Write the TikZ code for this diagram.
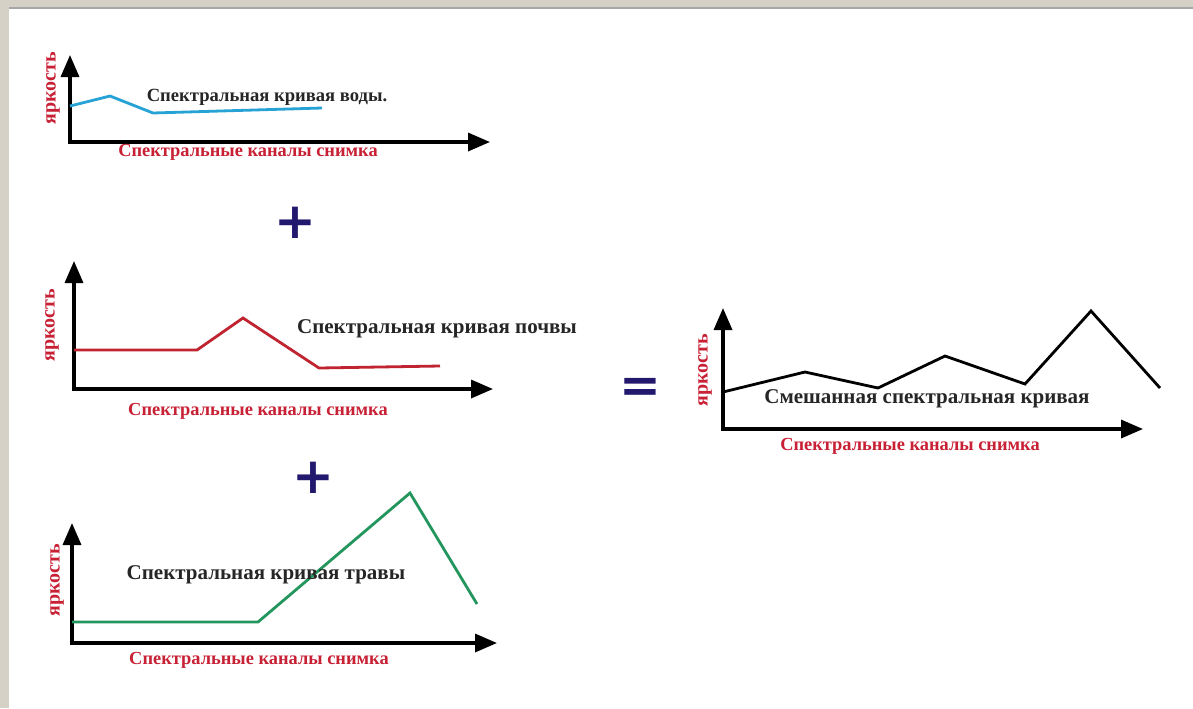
\documentclass[tikz,border=0pt]{standalone}
\usepackage{fontspec}
\setmainfont{Liberation Serif}
\newfontfamily\signfont{DejaVu Sans}
\usetikzlibrary{arrows.meta}
\definecolor{framegray}{RGB}{214,209,198}
\definecolor{chanred}{RGB}{200,32,52}
\definecolor{signblue}{RGB}{34,24,110}
\definecolor{watercol}{RGB}{38,162,212}
\definecolor{soilcol}{RGB}{192,36,48}
\definecolor{grasscol}{RGB}{34,150,92}
\newcommand*{\titlesize}{\fontsize{10.5}{10.5}\selectfont}
\newcommand*{\chansize }{\fontsize{9.2}{9.2}\selectfont}
\newcommand*{\ylabsize }{\fontsize{10}{10}\selectfont}
\tikzset{
  axis/.style   = {line width=1.7pt, line join=miter, {Triangle[length=11pt,width=9pt]}-{Triangle[length=11pt,width=9pt]}},
  curve/.style  = {line width=1.4pt, line join=miter},
  title/.style  = {font=\bfseries\titlesize, text=black!85, inner sep=0pt},
  chan/.style   = {font=\bfseries\chansize, text=chanred, inner sep=0pt},
  ylab/.style   = {font=\bfseries\ylabsize, text=chanred, rotate=90, inner sep=0pt},
  sign/.style   = {font=\signfont\bfseries\fontsize{25}{25}\selectfont, text=signblue, inner sep=0pt}
}

\begin{document}
\begin{tikzpicture}[x=0.5pt, y=-0.5pt]
    \useasboundingbox (0,0) rectangle (1193,708);
    % frame
    \fill [framegray] (0,0) rectangle (1193,708);
    \fill [white] (9,8) rectangle (1193,708);
    \draw [gray!70, line width=0.8pt] (9,8) -- (1193,8);

    % water
    \coordinate (w-o) at (70,142);
    \coordinate (w-y) at (70,55);
    \coordinate (w-x) at (490,142);
    \draw [axis] (w-y) -- (w-o) -- (w-x);
    \draw [curve, watercol] (70,106) -- (110,96) -- (153,113) -- (322,108);
    \node [title, font=\bfseries\fontsize{9.3}{9.3}\selectfont] (w-title) at (267,97) {Спектральная кривая воды.};
    \node [chan] (w-chan) at (248,152) {Спектральные каналы снимка};
    \node [ylab] (w-ylab) at (53,88) {яркость};

    \node [sign] (plus-a) at (295,223) {+};

    % soil
    \coordinate (s-o) at (74,389);
    \coordinate (s-y) at (74,261);
    \coordinate (s-x) at (493,389);
    \draw [axis] (s-y) -- (s-o) -- (s-x);
    \draw [curve, soilcol] (74,350) -- (197,350) -- (243,318) -- (319,368) -- (440,366);
    \node [title] (s-title) at (437,329) {Спектральная кривая почвы};
    \node [chan] (s-chan) at (258,411) {Спектральные каналы снимка};
    \node [ylab] (s-ylab) at (52,325) {яркость};

    \node [sign] (plus-b) at (313,478) {+};

    % grass
    \coordinate (g-o) at (72,643);
    \coordinate (g-y) at (72,523);
    \coordinate (g-x) at (497,643);
    \draw [axis] (g-y) -- (g-o) -- (g-x);
    \draw [curve, grasscol] (72,622) -- (258,622) -- (410,493) -- (477,604);
    \node [title] (g-title) at (266,575) {Спектральная кривая травы};
    \node [chan] (g-chan) at (259,660) {Спектральные каналы снимка};
    \node [ylab] (g-ylab) at (57,580) {яркость};

    \node [sign] (equals) at (640,390) {=};

    % mixed
    \coordinate (m-o) at (723,429);
    \coordinate (m-y) at (723,308);
    \coordinate (m-x) at (1143,429);
    \draw [axis] (m-y) -- (m-o) -- (m-x);
    \draw [curve, black] (723,392) -- (805,372) -- (878,388) -- (945,356) -- (1025,384) -- (1091,311) -- (1160,388);
    \node [title] (m-title) at (927,399) {Смешанная спектральная кривая};
    \node [chan] (m-chan) at (910,446) {Спектральные каналы снимка};
    \node [ylab] (m-ylab) at (705,370) {яркость};
\end{tikzpicture}
\end{document}
